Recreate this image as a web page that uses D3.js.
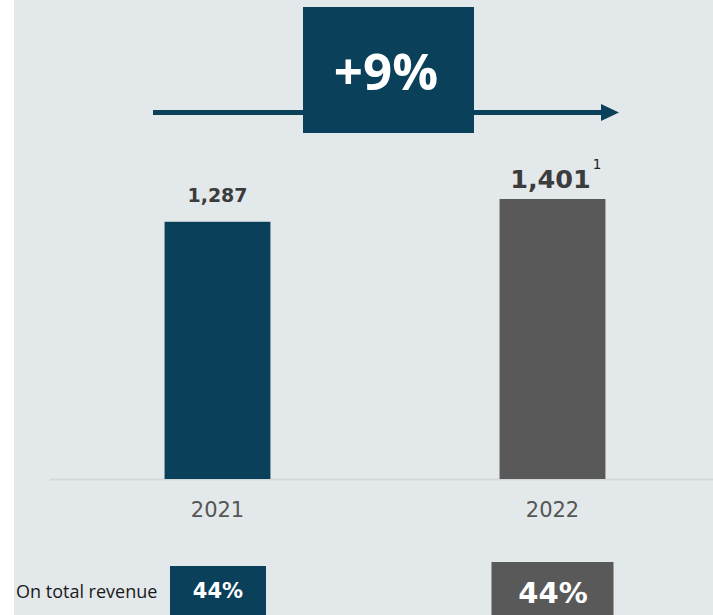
<!DOCTYPE html>
<html>
<head>
<meta charset="utf-8">
<script src="https://cdn.jsdelivr.net/npm/d3@7"></script>
<style>
  html, body { margin: 0; padding: 0; background: #ffffff; }
  svg { display: block; }
</style>
</head>
<body>
<svg id="chart" width="713" height="615"></svg>
<script>
// ---- data ----
const years = ["2021", "2022"];
const revenue = [1287, 1401];
const valueLabels = ["1,287", "1,401"];
const footnotes = ["", "1"];
const shareOfTotal = ["44%", "44%"];
const rowLabel = "On total revenue";

const TEAL = "#0a4059";
const GRAY = "#595959";
const BG = "#e3e8eb";

const svg = d3.select("#chart");
const W = 713, H = 615;

svg.append("rect").attr("x", 14).attr("y", 0).attr("width", W - 14).attr("height", H).attr("fill", BG);

const x = d3.scaleBand().domain(years).range([50, 720]).paddingInner(0.684).paddingOuter(0.342);
const y = d3.scaleLinear().domain([0, 1500]).range([479, 479 - 1500 * 0.19986]);

const colorOf = i => (i === years.length - 1 ? GRAY : TEAL);

// baseline
svg.append("line").attr("x1", 50).attr("x2", W).attr("y1", 479.5).attr("y2", 479.5)
  .attr("stroke", "#d3d8db").attr("stroke-width", 2);

// bars
svg.selectAll("rect.bar").data(years).join("rect").attr("class", "bar")
  .attr("x", d => x(d)).attr("width", x.bandwidth())
  .attr("y", (d, i) => y(revenue[i])).attr("height", (d, i) => y(0) - y(revenue[i]))
  .attr("fill", (d, i) => colorOf(i));

// value labels
years.forEach((yr, i) => {
  const last = i === years.length - 1;
  const cx = x(yr) + x.bandwidth() / 2;
  const t = svg.append("text")
    .attr("x", cx - (last ? 2 : 0)).attr("y", y(revenue[i]) - (last ? 11 : 20))
    .attr("text-anchor", "middle")
    .attr("font-family", "DejaVu Sans")
    .attr("font-weight", "bold")
    .attr("font-size", last ? 25.5 : 19)
    .attr("fill", "#3c3c3c")
    .text(valueLabels[i]);
  if (footnotes[i]) {
    const w = t.node().getComputedTextLength();
    svg.append("text")
      .attr("x", cx - 2 + w / 2 + 2).attr("y", y(revenue[i]) - 30)
      .attr("font-family", "DejaVu Sans")
      .attr("font-size", 13.5)
      .attr("fill", "#222222")
      .text(footnotes[i]);
  }
});

// year axis labels
svg.selectAll("text.year").data(years).join("text").attr("class", "year")
  .attr("x", d => x(d) + x.bandwidth() / 2).attr("y", 517)
  .attr("text-anchor", "middle")
  .attr("font-family", "DejaVu Sans")
  .attr("font-size", 21)
  .attr("fill", "#555555")
  .text(d => d);

// growth arrow + box
const growth = Math.round((revenue[1] / revenue[0] - 1) * 100);
svg.append("line").attr("x1", 153).attr("x2", 603).attr("y1", 112.5).attr("y2", 112.5)
  .attr("stroke", TEAL).attr("stroke-width", 5);
svg.append("path").attr("d", "M601,104 L619,112.5 L601,121 Z").attr("fill", TEAL);
svg.append("rect").attr("x", 303).attr("y", 7).attr("width", 171).attr("height", 126).attr("fill", TEAL);
svg.append("text").attr("x", 386).attr("y", 90).attr("text-anchor", "middle")
  .attr("font-family", "Open Sans").attr("font-weight", "bold").attr("font-size", 51)
  .attr("fill", "#ffffff").text("+" + growth + "%");

// share row
svg.append("text").attr("x", 16).attr("y", 598)
  .attr("font-family", "Open Sans").attr("font-size", 18).attr("fill", "#1a1a1a")
  .text(rowLabel);

years.forEach((yr, i) => {
  const last = i === years.length - 1;
  const cx = x(yr) + x.bandwidth() / 2;
  const bw = last ? 122 : 96;
  const top = last ? 562 : 566;
  svg.append("rect").attr("x", cx - bw / 2 + (last ? 0 : 0.5)).attr("y", top)
    .attr("width", bw).attr("height", H - top + 5).attr("fill", colorOf(i));
  svg.append("text").attr("x", cx + 0.5).attr("y", last ? 603 : 598)
    .attr("text-anchor", "middle")
    .attr("font-family", "DejaVu Sans").attr("font-weight", "bold")
    .attr("font-size", last ? 29 : 21)
    .attr("fill", "#ffffff").text(shareOfTotal[i]);
});
</script>
</body>
</html>
